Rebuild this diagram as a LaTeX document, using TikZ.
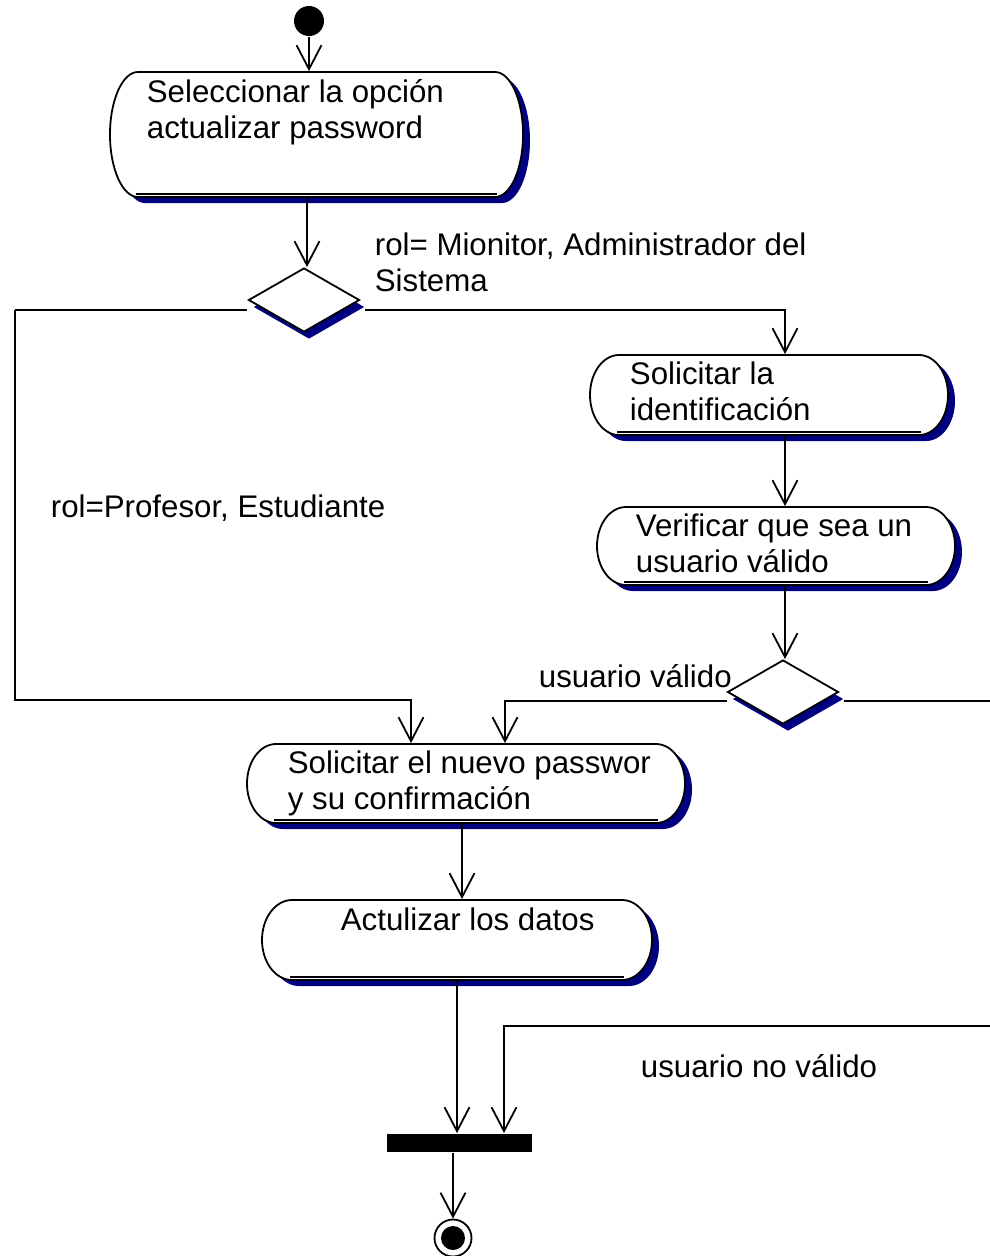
\documentclass[tikz,border=0pt]{standalone}
\usepackage{fontspec}
\setmainfont{Liberation Sans}
\usetikzlibrary{arrows.meta,shapes.geometric,shadows,calc}
\definecolor{navyc}{RGB}{0,0,128}
\newcommand\actbox[6]{% name, x0, y0, x1, y1, rx
  \pgfmathsetmacro\hy{(#5-#3)/2}
  \fill[navyc] ({#2+#6+7},{#3+6}) -- ({#4-#6+7},{#3+6})
     arc[start angle=90,end angle=-90,x radius=#6pt,y radius=\hy pt]
     -- ({#2+#6+7},{#5+6})
     arc[start angle=270,end angle=90,x radius=#6pt,y radius=\hy pt] -- cycle;
  \filldraw[fill=white] ({#2+#6},{#3}) -- ({#4-#6},{#3})
     arc[start angle=90,end angle=-90,x radius=#6pt,y radius=\hy pt]
     -- ({#2+#6},{#5})
     arc[start angle=270,end angle=90,x radius=#6pt,y radius=\hy pt] -- cycle;
  \draw ({#2+#6-2},{#5-3}) -- ({#4-#6+2},{#5-3});
  \node[inner sep=0, minimum width={#4-#2}, minimum height={#5-#3}] (#1) at ({(#2+#4)/2},{(#3+#5)/2}) {};
}
\begin{document}
\begin{tikzpicture}[x=1pt,y=-1pt, line width=1.8pt,
  txt/.style={anchor=base west, inner sep=0, font=\fontsize{31.25}{36.5}\selectfont},
  arr/.style={-{Straight Barb[length=24pt,width=25pt]}},
  decision/.style={diamond, draw, fill=white, inner sep=0, minimum width=111, minimum height=64,
     drop shadow={shadow xshift=5pt, shadow yshift=-7pt, fill=navyc, opacity=1}}]
\useasboundingbox (0,0) rectangle (990,1256);
\fill[white] (0,0) rectangle (990,1256);

% activities
\actbox{b1}{110}{72}{523}{197}{28}
\actbox{b2}{590}{355}{948}{435}{29}
\actbox{b3}{597}{507}{955}{585}{29}
\actbox{b4}{247}{744}{685}{823}{29}
\actbox{b5}{262}{900}{652}{980}{30}

% texts in activities
\node[txt] (t1a) at (146,102) {Seleccionar la opción};
\node[txt] (t1b) at (146,138) {actualizar password};
\node[txt] (t2a) at (629,384) {Solicitar la};
\node[txt] (t2b) at (629,420) {identificación};
\node[txt] (t3a) at (635,536) {Verificar que sea un};
\node[txt] (t3b) at (635,572) {usuario válido};
\node[txt] (t4a) at (287,773) {Solicitar el nuevo passwor};
\node[txt] (t4b) at (287,809) {y su confirmación};
\node[txt] (t5) at (340,930) {Actulizar los datos};

% guard labels
\node[txt] (l1a) at (374,255) {rol= Mionitor, Administrador del};
\node[txt] (l1b) at (374,291) {Sistema};
\node[txt] (l2) at (50,517) {rol=Profesor, Estudiante};
\node[txt] (l3) at (538,687) {usuario válido};
\node[txt] (l4) at (640,1077) {usuario no válido};

% decisions, start, bar, end
\node[decision] (d1) at (304,300) {};
\node[decision] (d2) at (783,692) {};
\node[circle, fill=black, inner sep=0, minimum size=30] (start) at (309,21) {};
\node[fill=black, inner sep=0, minimum width=145, minimum height=18] (bar) at (459.5,1143) {};
\node[circle, draw, fill=white, inner sep=0, minimum size=37] (end) at (453,1238) {};
\fill (end.center) circle[radius=12pt];

% bend points
\coordinate (k1) at (15,310);
\coordinate (k2) at (15,700);
\coordinate (k3) at (994,701);
\coordinate (k4) at (994,1026);

% connectors
\draw[arr] (start) -- (start |- b1.north);
\draw[arr] ([xshift=3pt]d1.north |- b1.south) -- ([xshift=3pt]d1.north);
\draw ([shift={(-1,10)}]d1.west) -- (k1);
\draw[arr] (k1) -- (k2) -| ([xshift=-55pt]b4.north);
\draw[arr] ([shift={(5,10)}]d1.east) -| ([xshift=16pt]b2.north);
\draw[arr] ([xshift=16pt]b2.south) -- ([xshift=16pt]b2.south |- b3.north);
\draw[arr] ([xshift=2pt]d2.north |- b3.south) -- ([xshift=2pt]d2.north);
\draw[arr] ([shift={(0,9)}]d2.west) -| ([xshift=39pt]b4.north);
\draw ([shift={(5,9)}]d2.east) -- (k3);
\draw[arr] (k3) -- (k4) -| ([xshift=44.5pt]bar.north);
\draw[arr] ([xshift=-4pt]b4.south) -- ([xshift=-4pt]b4.south |- b5.north);
\draw[arr] (b5.south) -- (b5.south |- bar.north);
\draw[arr] ([xshift=-6.5pt]bar.south) -- (end.north);
\end{tikzpicture}
\end{document}
